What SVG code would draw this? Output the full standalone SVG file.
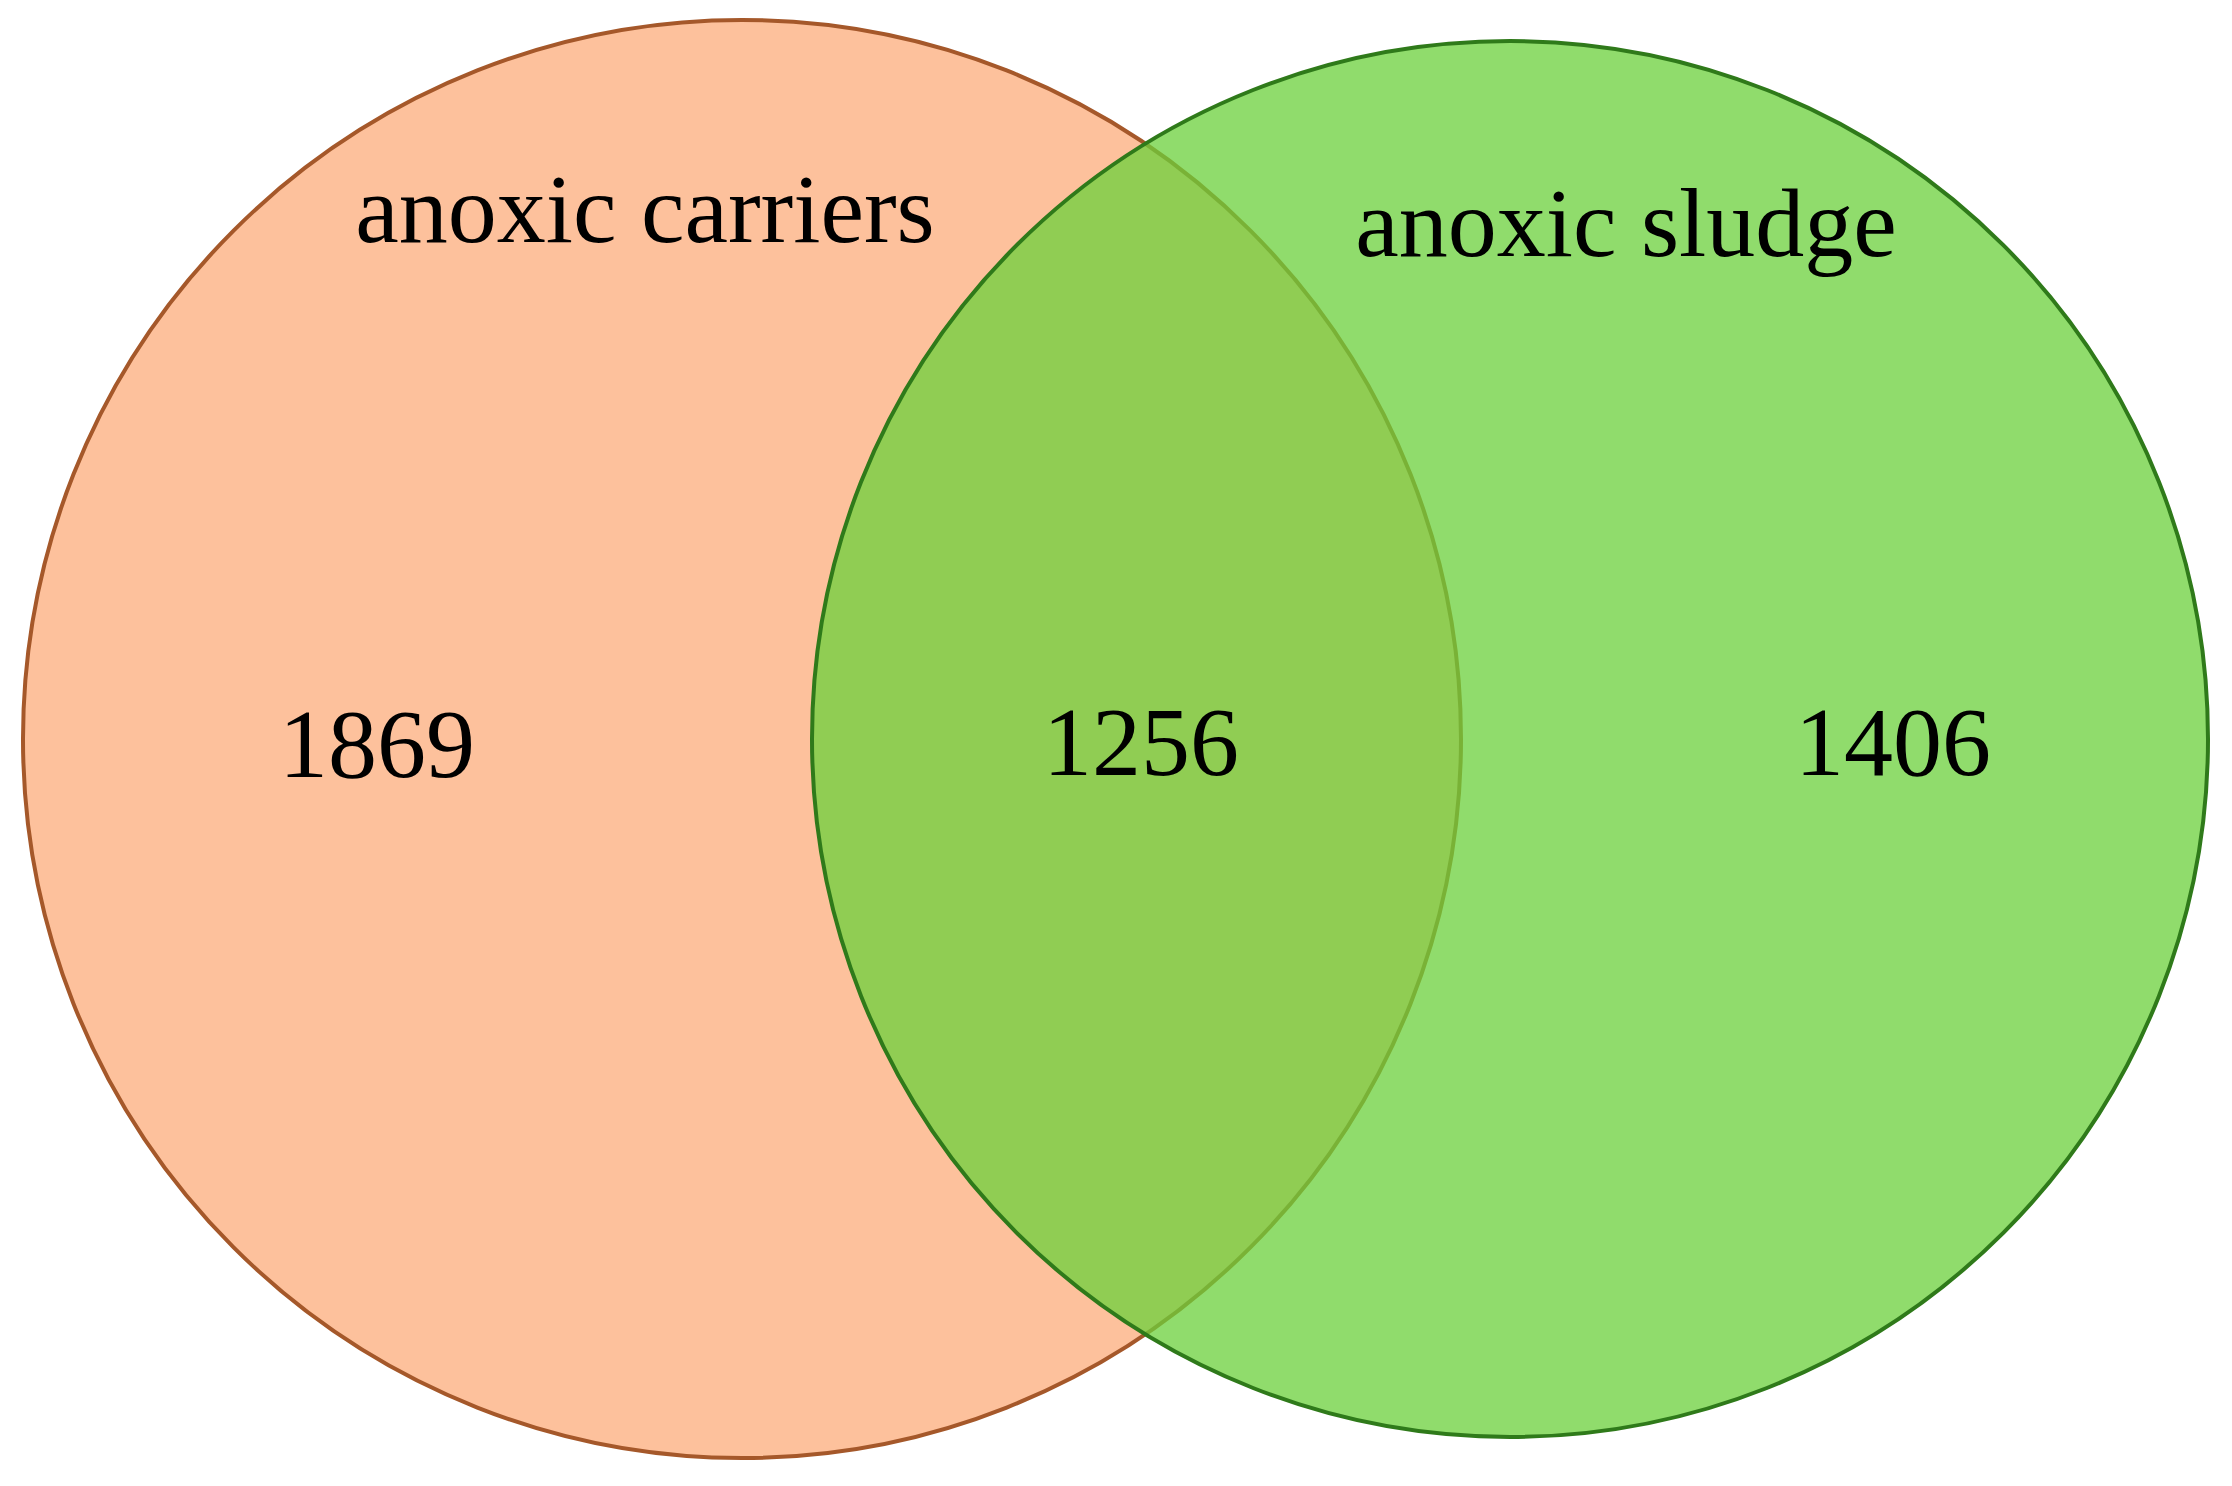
<svg xmlns="http://www.w3.org/2000/svg" width="2232" height="1486" viewBox="0 0 2232 1486">
<style>
.lbl{font-family:"Liberation Serif","Times New Roman",serif;font-size:98px;fill:#000;text-anchor:middle}
</style>
<rect width="2232" height="1486" fill="#fff"/>
<g id="set-carriers">
<circle cx="742" cy="739" r="719" fill="#FDC19C" stroke="#A5582A" stroke-width="4"/>
<text class="lbl" x="645" y="242">anoxic carriers</text>
</g>
<g id="set-sludge">
<circle cx="1510" cy="739" r="698" fill="#6BD03B" fill-opacity="0.75" stroke="#2F7A1A" stroke-width="4"/>
<text class="lbl" x="1626" y="256">anoxic sludge</text>
</g>
<g id="counts">
<text class="lbl" x="377" y="777">1869</text>
<text class="lbl" x="1141" y="775">1256</text>
<text class="lbl" x="1893" y="775">1406</text>
</g>
<g id="connectors"></g>
</svg>
